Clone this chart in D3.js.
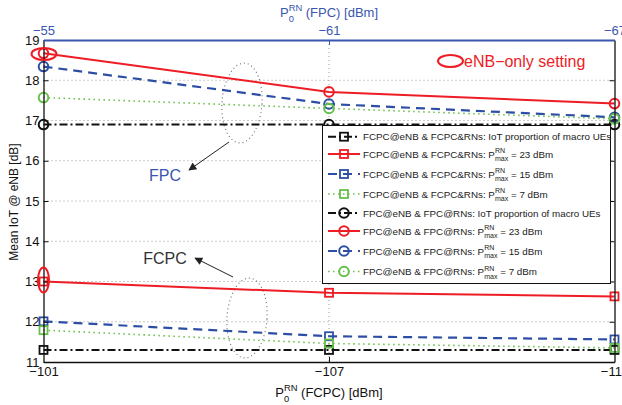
<!DOCTYPE html>
<html>
<head>
<meta charset="utf-8">
<script src="https://cdn.jsdelivr.net/npm/d3@7/dist/d3.min.js"></script>
<style>
  html, body { margin: 0; padding: 0; background: #fff; }
  svg { display: block; font-family: "Liberation Sans", Arial, sans-serif; }
  svg text { white-space: pre; }
</style>
</head>
<body>
<svg id="chart" width="622" height="405"></svg>
<script>
// Transmit power settings (bottom: FCPC, top: FPC)
const fcpcP0 = [-101, -107, -113];
const fpcP0 = [-55, -61, -67];
const yTickValues = [11, 12, 13, 14, 15, 16, 17, 18, 19];

// Mean IoT at eNB [dB] — FCPC@eNB & FCPC&RNs
const fcpcIoTMacro = [11.3, 11.3, 11.3];
const fcpcPmax23 = [13.0, 12.72, 12.63];
const fcpcPmax15 = [12.01, 11.64, 11.56];
const fcpcPmax7 = [11.79, 11.46, 11.35];

// Mean IoT at eNB [dB] — FPC@eNB & FPC@RNs
const fpcIoTMacro = [16.9, 16.9, 16.9];
const fpcPmax23 = [18.67, 17.71, 17.42];
const fpcPmax15 = [18.34, 17.41, 17.08];
const fpcPmax7 = [17.57, 17.30, 17.04];

const legendLabels = [
  "FCPC@eNB & FCPC&RNs: IoT proportion of macro UEs",
  "FCPC@eNB & FCPC&RNs: P|23",
  "FCPC@eNB & FCPC&RNs: P|15",
  "FCPC@eNB & FCPC&RNs: P|7",
  "FPC@eNB & FPC@RNs: IoT proportion of macro UEs",
  "FPC@eNB & FPC@RNs: P|23",
  "FPC@eNB & FPC@RNs: P|15",
  "FPC@eNB & FPC@RNs: P|7"
];

const RED = "#ee1c25", BLUE = "#2c4fa5", GREEN = "#66c04a", BLACK = "#111";
const AXBLUE = "#3a56b0";

const styles = {
  iot: { color: BLACK, dash: "8,3,2,3", width: 2 },
  p23: { color: RED, dash: null, width: 2 },
  p15: { color: BLUE, dash: "9,6", width: 2.2 },
  p7:  { color: GREEN, dash: "1.5,3.5", width: 1.6 }
};

const series = [
  { x: "fcpc", y: fcpcIoTMacro, s: styles.iot, m: "square" },
  { x: "fcpc", y: fcpcPmax23, s: styles.p23, m: "square" },
  { x: "fcpc", y: fcpcPmax15, s: styles.p15, m: "square" },
  { x: "fcpc", y: fcpcPmax7, s: styles.p7, m: "square" },
  { x: "fpc", y: fpcIoTMacro, s: styles.iot, m: "circle" },
  { x: "fpc", y: fpcPmax23, s: styles.p23, m: "circle" },
  { x: "fpc", y: fpcPmax15, s: styles.p15, m: "circle" },
  { x: "fpc", y: fpcPmax7, s: styles.p7, m: "circle" }
];

const L = 43.5, R = 614.5, T = 40, B = 362;
const svg = d3.select("#chart");

const xB = d3.scaleLinear().domain([-101, -113]).range([L, R]);
const xT = d3.scaleLinear().domain([-55, -67]).range([L, R]);
const y = d3.scaleLinear().domain([11, 19]).range([B, T]);

// grid
const grid = svg.append("g").attr("stroke", "#999").attr("stroke-width", 1).attr("stroke-dasharray", "1,3");
grid.selectAll("line.h").data(yTickValues.slice(1, -1)).join("line")
  .attr("x1", L).attr("x2", R).attr("y1", d => y(d)).attr("y2", d => y(d));
grid.append("line").attr("x1", xB(-107)).attr("x2", xB(-107)).attr("y1", T).attr("y2", B);

// dotted group ellipses
svg.append("ellipse").attr("cx", 242).attr("cy", 103).attr("rx", 20).attr("ry", 40)
  .attr("fill", "none").attr("stroke", "#777").attr("stroke-width", 1.2).attr("stroke-dasharray", "1,3")
  .attr("transform", "rotate(4,242,103)");
svg.append("ellipse").attr("cx", 247).attr("cy", 318).attr("rx", 20).attr("ry", 40)
  .attr("fill", "none").attr("stroke", "#777").attr("stroke-width", 1.2).attr("stroke-dasharray", "1,3")
  .attr("transform", "rotate(4,247,318)");

// series lines
series.forEach(sr => {
  const xs = sr.x === "fcpc" ? xB : xT;
  const xv = sr.x === "fcpc" ? fcpcP0 : fpcP0;
  const pts = sr.y.map((v, i) => ({ x: xv[i], y: v }));
  const p = svg.append("path").datum(pts)
    .attr("d", d3.line().x(d => xs(d.x)).y(d => y(d.y)))
    .attr("fill", "none").attr("stroke", sr.s.color).attr("stroke-width", sr.s.width);
  if (sr.s.dash) p.attr("stroke-dasharray", sr.s.dash);
  sr.pts = pts; sr.xs = xs;
});

function drawMarker(g, type, cx, cy, color) {
  if (type === "square") {
    g.append("rect").attr("x", cx - 4).attr("y", cy - 4).attr("width", 8).attr("height", 8)
      .attr("fill", "none").attr("stroke", color).attr("stroke-width", 1.8);
  } else {
    g.append("circle").attr("cx", cx).attr("cy", cy).attr("r", 4.8)
      .attr("fill", "none").attr("stroke", color).attr("stroke-width", 2);
  }
}
const mk = svg.append("g");
series.forEach(sr => {
  sr.pts.forEach(d => drawMarker(mk, sr.m, sr.xs(d.x), y(d.y), sr.s.color));
});

// axes
const fontSize = 13;
const gl = svg.append("g").attr("transform", `translate(${L},0)`)
  .call(d3.axisLeft(y).tickValues(yTickValues).tickFormat(d3.format("d")).tickSize(-5).tickSizeOuter(0).tickPadding(4));
const gr = svg.append("g").attr("transform", `translate(${R},0)`)
  .call(d3.axisLeft(y).tickValues(yTickValues).tickFormat("").tickSize(5).tickSizeOuter(0));
const gb = svg.append("g").attr("transform", `translate(0,${B})`)
  .call(d3.axisBottom(xB).tickValues(fcpcP0).tickFormat(d => "\u2212" + Math.abs(d)).tickSize(-5).tickSizeOuter(0).tickPadding(5));
const gt = svg.append("g").attr("transform", `translate(0,${T})`)
  .call(d3.axisTop(xT).tickValues(fpcP0).tickFormat(d => "\u2212" + Math.abs(d)).tickSize(-5).tickSizeOuter(0).tickPadding(5));

[gl, gr, gb].forEach(g => {
  g.selectAll("path.domain").attr("stroke", BLACK).attr("stroke-width", 1.3);
  g.selectAll(".tick line").attr("stroke", BLACK).attr("stroke-width", 1);
  g.selectAll(".tick text").attr("fill", BLACK).attr("font-size", fontSize).attr("font-family", "Liberation Sans, Arial, sans-serif");
});
gt.selectAll("path.domain").attr("stroke", AXBLUE).attr("stroke-width", 1.8);
gt.selectAll(".tick line").attr("stroke", AXBLUE);
gt.selectAll(".tick text").attr("fill", AXBLUE).attr("font-size", fontSize).attr("font-family", "Liberation Sans, Arial, sans-serif");
// end ticks on top/bottom axes coincide with the side axes
gb.selectAll(".tick line").filter(d => d !== -107).remove();
gt.selectAll(".tick line").filter(d => d !== -61).remove();

// rich text: prefix + P with stacked super/subscript + suffix
function richText(g, x, yb, anchor, prefix, base, sup, sub, suffix, size, color) {
  const t = g.append("g").attr("fill", color).attr("font-size", size);
  let cx = 0;
  const add = (txt, dy, fs) => {
    const e = t.append("text").attr("x", cx).attr("y", dy).attr("font-size", fs).text(txt);
    return e.node().getComputedTextLength();
  };
  if (prefix) cx += add(prefix, 0, size);
  cx += add(base, 0, size);
  const sfs = size * 0.72;
  const w1 = add(sup, -size * 0.45, sfs);
  const w2 = add(sub, size * 0.38, sfs);
  cx += Math.max(w1, w2);
  if (suffix) cx += add(suffix, 0, size);
  const x0 = anchor === "middle" ? x - cx / 2 : x;
  t.attr("transform", `translate(${x0},${yb})`);
}

// axis titles
richText(svg, 329, 397, "middle", "", "P", "RN", "0", " (FCPC) [dBm]", 13, BLACK);
richText(svg, 329, 17, "middle", "", "P", "RN", "0", " (FPC) [dBm]", 13, AXBLUE);
svg.append("text").attr("transform", `translate(18,202) rotate(-90)`)
  .attr("text-anchor", "middle").attr("font-size", 12).attr("fill", BLACK)
  .text("Mean IoT @ eNB [dB]");

// legend
const lg = svg.append("g");
lg.append("rect").attr("x", 322.5).attr("y", 125.5).attr("width", 288).attr("height", 158)
  .attr("fill", "#fff").attr("stroke", BLACK).attr("stroke-width", 1);
const rowY = [136.7, 154, 174, 194, 213, 231, 251, 271.5];
series.forEach((sr, i) => {
  const yy = rowY[i];
  const ln = lg.append("line").attr("x1", 328).attr("x2", 360).attr("y1", yy).attr("y2", yy)
    .attr("stroke", sr.s.color).attr("stroke-width", sr.s.width);
  if (sr.s.dash) ln.attr("stroke-dasharray", sr.s.dash);
  drawMarker(lg, sr.m, 344, yy, sr.s.color);
  const lab = legendLabels[i];
  const fs = 9.8;
  if (lab.includes("|")) {
    const [pre, val] = lab.split("|");
    richText(lg, 363, yy + 3.6, "start", pre.slice(0, -1), "P", "RN", "max", " = " + val + " dBm", fs, "#222");
  } else {
    lg.append("text").attr("x", 363).attr("y", yy + 3.6).attr("font-size", fs).attr("fill", "#222").text(lab);
  }
});

// annotations
const ann = svg.append("g");
ann.append("ellipse").attr("cx", 44).attr("cy", 54).attr("rx", 12.5).attr("ry", 6)
  .attr("fill", "none").attr("stroke", RED).attr("stroke-width", 2);
ann.append("ellipse").attr("cx", 43.5).attr("cy", 280).attr("rx", 5.5).attr("ry", 12.5)
  .attr("fill", "none").attr("stroke", RED).attr("stroke-width", 2);
ann.append("ellipse").attr("cx", 450.5).attr("cy", 61).attr("rx", 12.5).attr("ry", 6)
  .attr("fill", "none").attr("stroke", RED).attr("stroke-width", 2);
ann.append("text").attr("x", 464).attr("y", 67).attr("font-size", 16).attr("fill", RED)
  .text("eNB\u2212only setting");

const defs = svg.append("defs");
defs.append("marker").attr("id", "ah").attr("viewBox", "0 0 10 10").attr("refX", 9).attr("refY", 5)
  .attr("markerWidth", 10).attr("markerHeight", 8).attr("markerUnits", "userSpaceOnUse").attr("orient", "auto")
  .append("path").attr("d", "M0,0 L10,5 L0,10 z").attr("fill", "#222");
ann.append("line").attr("x1", 229).attr("y1", 142).attr("x2", 189).attr("y2", 170)
  .attr("stroke", "#222").attr("stroke-width", 1).attr("marker-end", "url(#ah)");
ann.append("line").attr("x1", 233).attr("y1", 277).attr("x2", 195).attr("y2", 258)
  .attr("stroke", "#222").attr("stroke-width", 1).attr("marker-end", "url(#ah)");
ann.append("text").attr("x", 165).attr("y", 181).attr("text-anchor", "middle").attr("font-size", 16)
  .attr("fill", AXBLUE).text("FPC");
ann.append("text").attr("x", 165).attr("y", 264).attr("text-anchor", "middle").attr("font-size", 16)
  .attr("fill", "#333").text("FCPC");
</script>
</body>
</html>
